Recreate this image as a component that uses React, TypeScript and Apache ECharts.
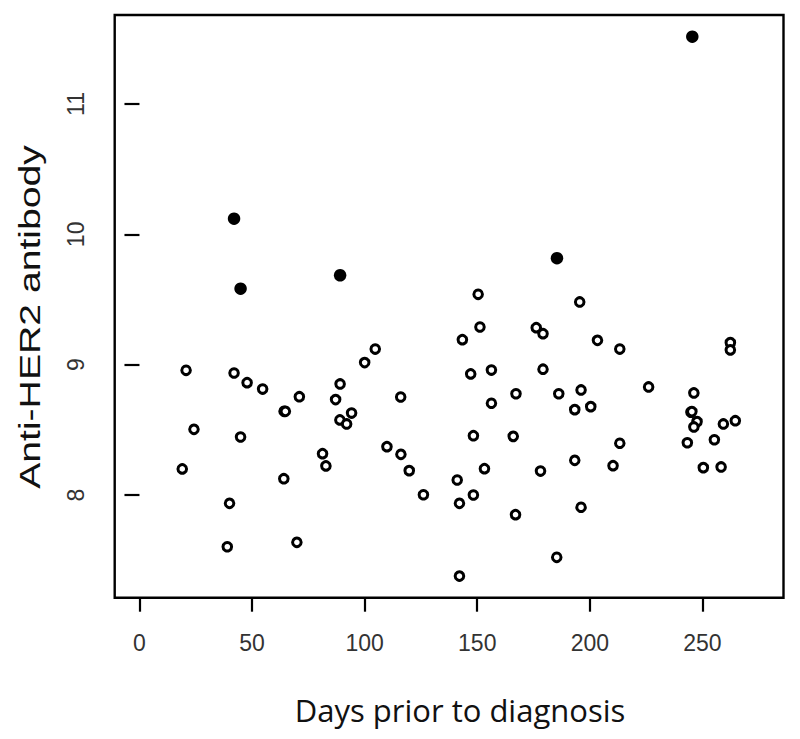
import React, { useEffect, useRef } from "react";
import * as echarts from "echarts";

const xTicks = [0, 50, 100, 150, 200, 250];
const yTicks = [8, 9, 10, 11];

const daysOpen = [
  19.0, 20.7, 24.2, 39.0, 40.0, 42.0, 44.9, 47.8, 54.7, 64.2, 64.8, 64.1, 69.9, 71.0,
  81.3, 82.8, 87.1, 89.1, 89.0, 92.0, 94.2, 100.0, 104.7, 109.9, 116.0, 116.1, 119.8,
  126.1, 141.1, 142.1, 142.1, 143.4, 147.1, 148.3, 148.3, 150.4, 151.2, 153.2, 156.3,
  156.3, 166.0, 167.2, 167.0, 176.2, 179.2, 179.2, 178.1, 185.3, 186.2, 193.3, 193.3,
  195.5, 196.1, 196.1, 200.4, 203.4, 210.3, 213.3, 213.3, 226.1, 243.3, 244.9, 245.3,
  246.2, 247.6, 246.2, 250.4, 255.3, 258.3, 259.3, 262.4, 262.4, 264.6,
];
const antibodyOpen = [
  8.2, 8.957, 8.504, 7.603, 7.936, 8.936, 8.445, 8.862, 8.813, 8.642, 8.642, 8.125, 7.637,
  8.754, 8.317, 8.223, 8.732, 8.852, 8.576, 8.545, 8.629, 9.016, 9.12, 8.371, 8.752, 8.312,
  8.187, 8.002, 8.115, 7.936, 7.378, 9.192, 8.929, 8.455, 8.0, 9.54, 9.289, 8.202, 8.959,
  8.704, 8.45, 8.777, 7.849, 9.284, 9.238, 8.965, 8.184, 7.522, 8.777, 8.655, 8.266,
  9.481, 8.806, 7.906, 8.678, 9.187, 8.225, 9.12, 8.397, 8.829, 8.401, 8.635, 8.64,
  8.783, 8.563, 8.522, 8.21, 8.424, 8.215, 8.545, 9.169, 9.113, 8.57,
];
const daysFilled = [42.0, 44.9, 89.1, 185.4, 245.5];
const antibodyFilled = [10.12, 9.583, 9.686, 9.817, 11.517];

const xTitle = "Days prior to diagnosis";
const yTitle = "Anti-HER2 antibody";

export default function App() {
  const ref = useRef<HTMLDivElement>(null);
  useEffect(() => {
    document.body.style.margin = "0";
    const chart = echarts.init(ref.current!, null, { renderer: "svg" });
    const tickFont = "'Liberation Sans', Arial, Helvetica, sans-serif";
    chart.setOption({
      animation: false,
      backgroundColor: "#fff",
      grid: {
        left: 114.7,
        top: 15,
        right: 16.5,
        bottom: 141.3,
        show: true,
        borderColor: "#000",
        borderWidth: 2.4,
        backgroundColor: "transparent",
      },
      xAxis: {
        type: "value",
        min: -11,
        max: 286,
        axisLine: { show: false },
        splitLine: { show: false },
        axisTick: {
          show: true,
          inside: false,
          length: 14,
          customValues: xTicks,
          lineStyle: { color: "#000", width: 2.2 },
        },
        axisLabel: {
          show: true,
          customValues: xTicks,
          margin: 34,
          fontSize: 23,
          color: "#333",
          fontFamily: tickFont,
        },
      },
      yAxis: {
        type: "value",
        min: 7.212,
        max: 11.683,
        axisLine: { show: false },
        splitLine: { show: false },
        axisTick: {
          show: true,
          inside: false,
          length: 15,
          customValues: yTicks,
          lineStyle: { color: "#000", width: 2.2 },
        },
        axisLabel: {
          show: true,
          customValues: yTicks,
          rotate: 90,
          margin: 27,
          fontSize: 23,
          color: "#333",
          fontFamily: tickFont,
        },
      },
      graphic: [
        {
          type: "text",
          x: 30,
          y: 317,
          rotation: Math.PI / 2,
          scaleX: 1.35,
          style: {
            text: yTitle,
            fontSize: 29,
            fontFamily: tickFont,
            fill: "#111",
            align: "center",
            verticalAlign: "middle",
          },
        },
        {
          type: "text",
          x: 460,
          y: 710,
          style: {
            text: xTitle,
            fontSize: 31,
            fontFamily: "'Open Sans', 'Noto Sans', sans-serif",
            fill: "#111",
            align: "center",
            verticalAlign: "middle",
          },
        },
      ],
      series: [
        {
          type: "scatter",
          data: daysOpen.map((d, i) => [d, antibodyOpen[i]]),
          symbol: "circle",
          symbolSize: 8.6,
          itemStyle: { color: "#fff", borderColor: "#000", borderWidth: 3, opacity: 1 },
          silent: true,
        },
        {
          type: "scatter",
          data: daysFilled.map((d, i) => [d, antibodyFilled[i]]),
          symbol: "circle",
          symbolSize: 12.5,
          itemStyle: { color: "#000", opacity: 1 },
          silent: true,
        },
      ],
    });
    return () => chart.dispose();
  }, []);
  return <div ref={ref} style={{ width: 800, height: 739 }} />;
}
